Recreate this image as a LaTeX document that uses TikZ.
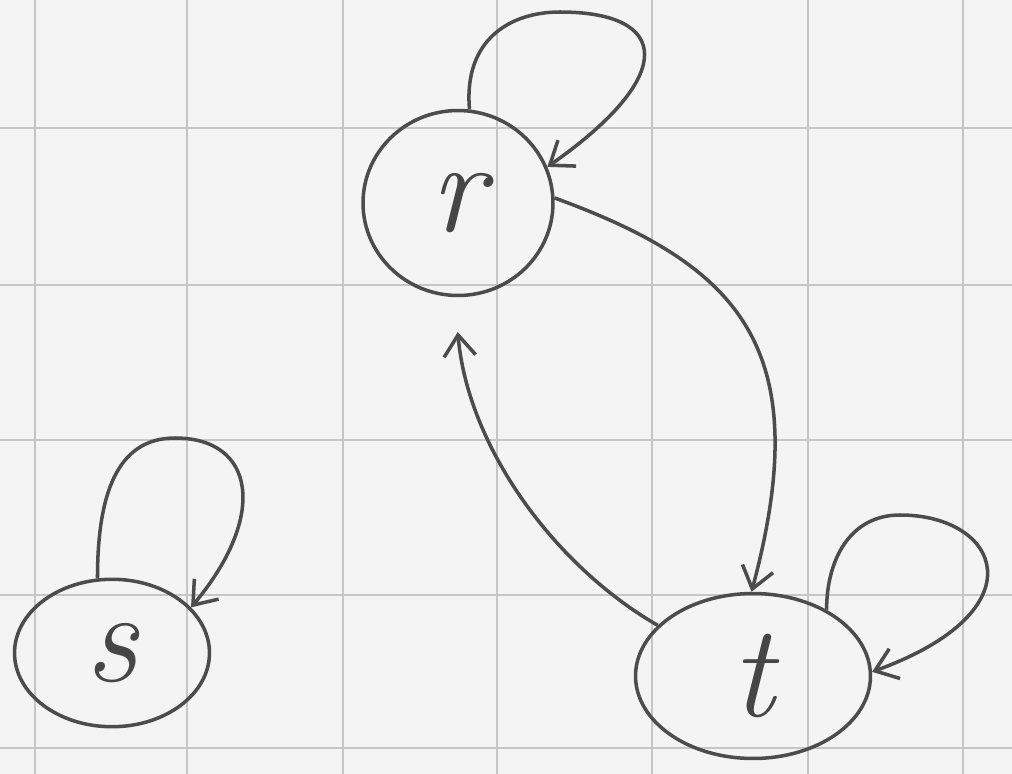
\documentclass[tikz,border=0pt]{standalone}
\usepackage{fontspec}
\usetikzlibrary{shapes.geometric,arrows.meta}
\begin{document}
\begin{tikzpicture}[x=0.02cm,y=0.02cm,
  gridline/.style={draw=gray!45,line width=1.6pt},
  statenode/.style={ellipse,draw=gray!60!black,line width=2pt,inner sep=0pt,
     text=gray!55!black,font=\fontsize{75}{75}\selectfont\itshape},
  pen/.style={draw=gray!60!black,line width=2pt,
     -{Straight Barb[length=12pt,width=18pt,line width=2pt]}}]
\fill[gray!9] (0,0) rectangle (1012,-774);
\useasboundingbox (0,0) rectangle (1012,-774);
% grid
\foreach \gx in {35,187,343,497,652,808,963} {\draw[gridline] (\gx,0) -- (\gx,-774);}
\foreach \gy in {128,285,440,595,748} {\draw[gridline] (0,-\gy) -- (1012,-\gy);}
% nodes
\node[statenode,minimum width=3.8cm,minimum height=3.7cm] (r) at (458,-203) {r};
\node[statenode,minimum width=3.9cm,minimum height=2.95cm] (s) at (112,-653) {s};
\node[statenode,minimum width=4.7cm,minimum height=3.3cm] (t) at (753,-676) {t};
% self loops
\draw[pen] (r.83) .. controls +(95:70) and +(180:50) .. (560,-12)
   .. controls +(0:110) and +(35:160) .. (r.22);
\draw[pen] (s.101) .. controls +(90:80) and +(180:60) .. (175,-438)
   .. controls +(0:80) and +(50:120) .. (s.30);
\draw[pen] (t.42) .. controls +(90:50) and +(180:50) .. (900,-515)
   .. controls +(0:100) and +(20:180) .. (t.2);
% edges
\draw[pen] (r.3) .. controls +(-20:200) and +(75:250) .. (t.91);
\draw[pen,shorten >=35*0.02cm] (t.152) .. controls +(150:120) and +(-85:150) .. (r.268);
\end{tikzpicture}
\end{document}
